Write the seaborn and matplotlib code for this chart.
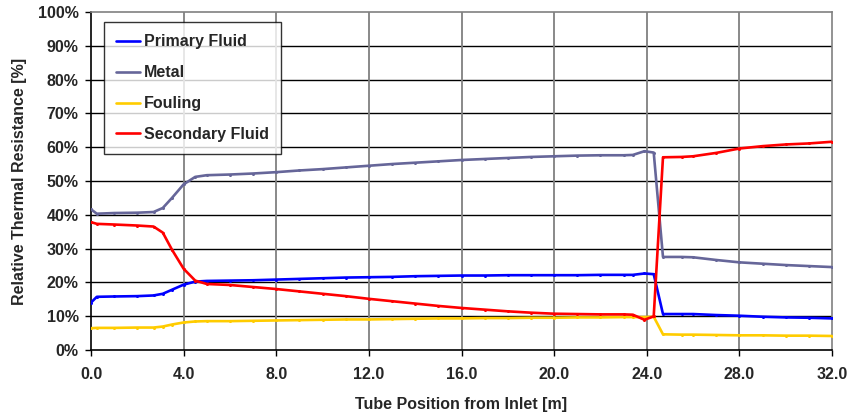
import numpy as np
import pandas as pd
import matplotlib
matplotlib.use('Agg')
import matplotlib.pyplot as plt
import seaborn as sns
from matplotlib.ticker import FuncFormatter

#%% data
position = [0.0, 0.25, 1.0, 2.0, 2.7, 3.1, 3.5, 4.0, 4.5, 5.0, 6.0, 7.0, 8.0, 9.0, 10.0,
            11.0, 12.0, 13.0, 14.0, 15.0, 16.0, 17.0, 18.0, 19.0, 20.0, 21.0, 22.0, 23.0,
            23.4, 23.9, 24.3, 24.7, 25.5, 26.0, 27.0, 28.0, 29.0, 30.0, 31.0, 32.0]

primary = [14.0, 15.7, 15.8, 15.9, 16.1, 16.6, 17.8, 19.3, 20.2, 20.4, 20.5, 20.6, 20.8, 21.0,
           21.2, 21.4, 21.5, 21.6, 21.8, 21.9, 22.0, 22.0, 22.1, 22.1, 22.1, 22.1, 22.2, 22.2,
           22.2, 22.6, 22.4, 10.6, 10.6, 10.6, 10.3, 10.1, 9.8, 9.6, 9.5, 9.3]

metal = [41.6, 40.3, 40.5, 40.6, 40.8, 42.0, 45.0, 49.0, 51.2, 51.7, 51.9, 52.2, 52.6, 53.1,
         53.5, 54.0, 54.5, 55.0, 55.4, 55.8, 56.2, 56.5, 56.8, 57.1, 57.3, 57.5, 57.6, 57.6,
         57.7, 58.8, 58.4, 27.5, 27.5, 27.4, 26.6, 25.9, 25.5, 25.1, 24.8, 24.5]

fouling = [6.4, 6.5, 6.5, 6.6, 6.6, 6.9, 7.5, 8.1, 8.4, 8.5, 8.5, 8.6, 8.7, 8.8, 8.9, 9.0,
           9.0, 9.1, 9.2, 9.3, 9.3, 9.4, 9.4, 9.5, 9.5, 9.6, 9.6, 9.7, 9.7, 9.7, 9.8,
           4.6, 4.5, 4.5, 4.4, 4.3, 4.3, 4.2, 4.2, 4.1]

secondary = [37.8, 37.3, 37.1, 36.8, 36.5, 34.7, 29.6, 24.0, 20.5, 19.5, 19.2, 18.6, 18.0,
             17.3, 16.6, 15.9, 15.1, 14.4, 13.7, 13.0, 12.4, 11.9, 11.4, 11.0, 10.7, 10.6,
             10.5, 10.5, 10.4, 8.9, 9.9, 57.0, 57.1, 57.3, 58.3, 59.6, 60.3, 60.8, 61.1, 61.6]

series_names = ['Primary Fluid', 'Metal', 'Fouling', 'Secondary Fluid']
series_vals = [primary, metal, fouling, secondary]
clrs = ['#0000FF', '#666699', '#FFCC00', '#FF0000']

xticks = [0, 4, 8, 12, 16, 20, 24, 28, 32]
yticks = [0, 10, 20, 30, 40, 50, 60, 70, 80, 90, 100]

#%% long format table for seaborn
df = pd.concat([pd.DataFrame({'pos': position, 'val': v, 'series': n})
                for n, v in zip(series_names, series_vals)]).reset_index(drop=True)

sns.set_style('white')
plt.rcParams['font.family'] = ['Liberation Sans', 'DejaVu Sans']
plt.rcParams['font.weight'] = 'bold'

fig = plt.figure(figsize=(8.53, 4.15), dpi=100)
ax = fig.add_axes([0.1067, 0.157, 0.8687, 0.814])

sns.lineplot(data=df, x='pos', y='val', hue='series', hue_order=series_names,
             palette=clrs, linewidth=1.9, marker='o', markersize=2.2,
             markeredgewidth=0, ax=ax, zorder=3)

ax.set_xlim(0, 32)
ax.set_ylim(0, 100)
ax.set_xticks(xticks)
ax.set_yticks(yticks)
ax.xaxis.set_major_formatter(FuncFormatter(lambda v, p: '%.1f' % v))
ax.yaxis.set_major_formatter(FuncFormatter(lambda v, p: '%d%%' % v))

# grid: black horizontal, grey vertical
for yv in yticks[1:-1]:
    ax.axhline(yv, color='black', lw=1.0, zorder=1)
for xv in xticks[1:-1]:
    ax.axvline(xv, color='#808080', lw=1.3, zorder=1)

ax.spines['left'].set_color('black')
ax.spines['bottom'].set_color('black')
ax.spines['top'].set_color('#808080')
ax.spines['right'].set_color('#808080')
for s in ax.spines.values():
    s.set_linewidth(1.2)

ax.tick_params(axis='both', direction='out', length=4, width=1, color='black',
               labelsize=11.5, left=True, bottom=True)
ax.tick_params(axis='x', pad=8)
ax.tick_params(axis='y', pad=5)
for lbl in ax.get_xticklabels() + ax.get_yticklabels():
    lbl.set_fontweight('bold')

ax.set_xlabel('Tube Position from Inlet [m]', fontsize=11.5, fontweight='bold', labelpad=11)
ax.set_ylabel('Relative Thermal Resistance [%]', fontsize=11.5, fontweight='bold', labelpad=8)

leg = ax.legend(loc='upper left', bbox_to_anchor=(0.0175, 0.970), frameon=True, fancybox=False,
                handlelength=1.5, handletextpad=0.25, labelspacing=1.0, borderpad=0.75,
                prop={'size': 11.5, 'weight': 'bold'}, borderaxespad=0)
leg.get_frame().set_edgecolor('black')
leg.get_frame().set_linewidth(1.0)
for h in leg.legend_handles:
    h.set_marker('')
    h.set_linewidth(1.9)
leg.set_zorder(5)

fig.savefig('out.png', dpi=100)
